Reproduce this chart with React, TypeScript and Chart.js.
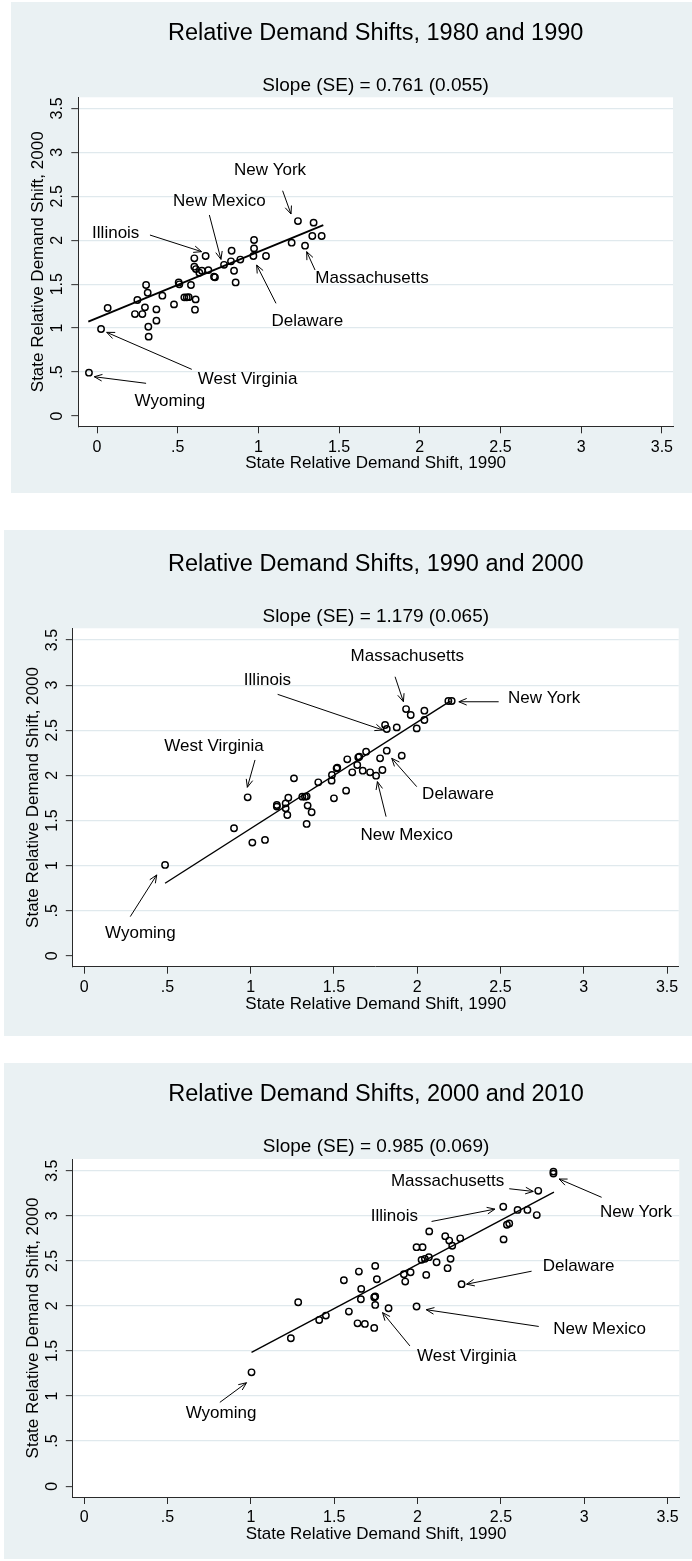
import React, { useEffect, useRef } from 'react';
import { Chart, registerables } from 'chart.js';

Chart.register(...registerables);

type Pt = [number, number];
type Arrow = [number, number, number, number];

// ---------- shared axis data ----------
const tickValues = [0, 0.5, 1, 1.5, 2, 2.5, 3, 3.5];
const tickLabels = ['0', '.5', '1', '1.5', '2', '2.5', '3', '3.5'];
const xAxisTitle = 'State Relative Demand Shift, 1990';
const yAxisTitle = 'State Relative Demand Shift, 2000';

const panelTitles = [
  'Relative Demand Shifts, 1980 and 1990',
  'Relative Demand Shifts, 1990 and 2000',
  'Relative Demand Shifts, 2000 and 2010',
];
const panelSubtitles = [
  'Slope (SE) = 0.761 (0.055)',
  'Slope (SE) = 1.179 (0.065)',
  'Slope (SE) = 0.985 (0.069)',
];

const stateNames = ['New York', 'New Mexico', 'Illinois', 'Delaware', 'Massachusetts', 'West Virginia', 'Wyoming'];

// ---------- panel 1 : 1980 and 1990 ----------
const p1Points: Pt[] = [
  [-0.05, 0.493], [0.025, 0.99], [0.066, 1.229], [0.235, 1.16], [0.25, 1.32],
  [0.281, 1.16], [0.297, 1.236], [0.304, 1.49], [0.314, 1.403], [0.318, 1.016],
  [0.32, 0.903], [0.368, 1.213], [0.368, 1.085], [0.405, 1.369], [0.477, 1.27],
  [0.506, 1.52], [0.51, 1.498], [0.541, 1.35], [0.556, 1.35], [0.568, 1.352],
  [0.582, 1.49], [0.603, 1.794], [0.603, 1.699], [0.607, 1.21], [0.611, 1.327],
  [0.613, 1.672], [0.634, 1.63], [0.65, 1.653], [0.673, 1.82], [0.69, 1.66],
  [0.725, 1.585], [0.731, 1.578], [0.787, 1.72], [0.83, 1.76], [0.834, 1.88],
  [0.849, 1.653], [0.859, 1.52], [0.888, 1.78], [0.969, 1.82], [0.973, 1.907],
  [0.973, 2.002], [1.047, 1.82], [1.206, 1.972], [1.245, 2.218], [1.289, 1.938],
  [1.334, 2.048], [1.342, 2.2], [1.392, 2.048],
];
const p1Fit: Pt[] = [[-0.054, 1.073], [1.402, 2.173]];
const p1LabelPos: Pt[] = [
  [1.072, 2.791], [0.758, 2.438], [0.116, 2.078], [1.303, 1.081],
  [1.704, 1.566], [0.933, 0.417], [0.452, 0.163],
];
const p1Arrows: Arrow[] = [
  [1.15, 2.563, 1.202, 2.298], [0.696, 2.287, 0.768, 1.782], [0.328, 2.059, 0.648, 1.87],
  [1.109, 1.282, 0.989, 1.718], [1.351, 1.661, 1.299, 1.87], [0.587, 0.531, 0.06, 0.952],
  [0.304, 0.372, -0.017, 0.447],
];

// ---------- panel 2 : 1990 and 2000 ----------
const p2Points: Pt[] = [
  [0.486, 1.008], [0.9, 1.414], [0.982, 1.757], [1.01, 1.255], [1.086, 1.285],
  [1.157, 1.672], [1.157, 1.654], [1.21, 1.69], [1.21, 1.635], [1.22, 1.561],
  [1.226, 1.753], [1.26, 1.967], [1.31, 1.764], [1.326, 1.764], [1.336, 1.768],
  [1.342, 1.665], [1.336, 1.462], [1.366, 1.591], [1.406, 1.923], [1.486, 1.942],
  [1.488, 2.004], [1.5, 1.746], [1.516, 2.078], [1.52, 2.086], [1.573, 1.831],
  [1.58, 2.178], [1.61, 2.034], [1.64, 2.115], [1.646, 2.2], [1.652, 2.207],
  [1.673, 2.052], [1.693, 2.263], [1.717, 2.034], [1.753, 1.997], [1.777, 2.189],
  [1.791, 2.06], [1.817, 2.274], [1.907, 2.219], [1.807, 2.558], [1.817, 2.514],
  [1.877, 2.532], [1.933, 2.735], [1.961, 2.669], [1.997, 2.521], [2.043, 2.614],
  [2.043, 2.717], [2.187, 2.824], [2.207, 2.824],
];
const p2Fit: Pt[] = [[0.486, 0.805], [2.2, 2.826]];
const p2LabelPos: Pt[] = [
  [2.762, 2.853], [1.937, 1.34], [1.101, 3.056], [2.245, 1.794],
  [1.94, 3.322], [0.78, 2.318], [0.338, 0.251],
];
const p2Arrows: Arrow[] = [
  [2.489, 2.816, 2.25, 2.816], [1.813, 1.543, 1.761, 1.931], [1.162, 2.898, 1.793, 2.503],
  [1.997, 1.875, 1.847, 2.189], [1.867, 3.093, 1.917, 2.817], [1.026, 2.171, 0.98, 1.868],
  [0.277, 0.435, 0.436, 0.897],
];

// ---------- panel 3 : 2000 and 2010 ----------
const p3Points: Pt[] = [
  [1.004, 1.263], [1.24, 1.641], [1.284, 2.041], [1.41, 1.844], [1.45, 1.893],
  [1.558, 2.285], [1.588, 1.937], [1.64, 1.807], [1.684, 1.8], [1.648, 2.381],
  [1.662, 2.189], [1.66, 2.074], [1.74, 2.096], [1.746, 2.104], [1.746, 2.011],
  [1.74, 1.756], [1.746, 2.444], [1.756, 2.296], [1.826, 1.974], [1.918, 2.352],
  [1.926, 2.27], [1.958, 2.374], [1.994, 1.993], [1.994, 2.652], [2.03, 2.652],
  [2.024, 2.511], [2.044, 2.522], [2.068, 2.541], [2.052, 2.344], [2.114, 2.485],
  [2.18, 2.419], [2.198, 2.522], [2.264, 2.241], [2.07, 2.827], [2.166, 2.774],
  [2.19, 2.725], [2.208, 2.667], [2.256, 2.75], [2.514, 3.1], [2.6, 3.065],
  [2.659, 3.065], [2.715, 3.008], [2.536, 2.9], [2.55, 2.915], [2.516, 2.738],
  [2.724, 3.277], [2.815, 3.49], [2.815, 3.468],
];
const p3Fit: Pt[] = [[1.004, 1.485], [2.818, 3.262]];
const p3LabelPos: Pt[] = [
  [3.31, 3.035], [3.092, 1.735], [1.861, 2.989], [2.966, 2.435],
  [2.18, 3.385], [2.295, 1.44], [0.821, 0.805],
];
const p3Arrows: Arrow[] = [
  [3.104, 3.205, 2.849, 3.408], [2.727, 1.772, 2.052, 1.958], [2.084, 2.937, 2.464, 3.074],
  [2.684, 2.385, 2.294, 2.241], [2.55, 3.3, 2.694, 3.27], [1.954, 1.556, 1.79, 1.926],
  [0.814, 0.93, 0.974, 1.148],
];

// ---------- styles / layout ----------
const FONT = '"Liberation Sans", Arial, Helvetica, sans-serif';
const BG = '#eaf1f3';
const GRID = '#e0e9ed';
const AXIS = '#2a2a2a';

interface PanelSpec {
  left: number; top: number; width: number; height: number;
  padTop: number; padRight: number; yWidth: number; xHeight: number;
  xMin: number; xMax: number; yMin: number; yMax: number;
  fitWidth: number;
  title: string; subtitle: string;
  points: Pt[]; fit: Pt[]; labelPos: Pt[]; arrows: Arrow[];
}

const panels: PanelSpec[] = [
  {
    left: 11, top: 2, width: 681, height: 491,
    padTop: 95.3, padRight: 19, yWidth: 67.3, xHeight: 66.7,
    xMin: -0.116, xMax: 3.569, yMin: -0.117, yMax: 3.626, fitWidth: 1.9,
    title: panelTitles[0], subtitle: panelSubtitles[0],
    points: p1Points, fit: p1Fit, labelPos: p1LabelPos, arrows: p1Arrows,
  },
  {
    left: 4, top: 530, width: 688, height: 506,
    padTop: 98.3, padRight: 13.3, yWidth: 68.8, xHeight: 69.3,
    xMin: -0.068, xMax: 3.57, yMin: -0.12, yMax: 3.63, fitWidth: 1.4,
    title: panelTitles[1], subtitle: panelSubtitles[1],
    points: p2Points, fit: p2Fit, labelPos: p2LabelPos, arrows: p2Arrows,
  },
  {
    left: 4, top: 1063, width: 688, height: 496,
    padTop: 96, padRight: 12.7, yWidth: 68.8, xHeight: 62,
    xMin: -0.068, xMax: 3.57, yMin: -0.12, yMax: 3.63, fitWidth: 1.4,
    title: panelTitles[2], subtitle: panelSubtitles[2],
    points: p3Points, fit: p3Fit, labelPos: p3LabelPos, arrows: p3Arrows,
  },
];

function makeDecoPlugin(spec: PanelSpec) {
  return {
    id: 'stataDeco',
    beforeDraw(chart: any) {
      const { ctx, width, height, chartArea: ca } = chart;
      ctx.save();
      ctx.fillStyle = BG;
      ctx.fillRect(0, 0, width, height);
      ctx.fillStyle = '#ffffff';
      ctx.fillRect(ca.left, ca.top, ca.right - ca.left, ca.bottom - ca.top);
      ctx.restore();
    },
    afterDraw(chart: any) {
      const { ctx, chartArea: ca } = chart;
      const xs = chart.scales.x;
      const ys = chart.scales.y;
      const cx = (ca.left + ca.right) / 2;
      const cy = (ca.top + ca.bottom) / 2;
      ctx.save();
      ctx.fillStyle = '#000';
      ctx.textAlign = 'center';
      ctx.textBaseline = 'middle';

      // titles
      ctx.font = `23.5px ${FONT}`;
      ctx.fillText(spec.title, cx, ca.top - 64);
      ctx.font = `19px ${FONT}`;
      ctx.fillText(spec.subtitle, cx, ca.top - 12);

      // x tick labels
      ctx.font = `16px ${FONT}`;
      xs.ticks.forEach((t: any, i: number) => {
        ctx.fillText(tickLabels[i], xs.getPixelForValue(t.value), ca.bottom + 20.8);
      });
      // x title
      ctx.font = `17px ${FONT}`;
      ctx.fillText(xAxisTitle, cx, ca.bottom + 37.5);

      // y tick labels (rotated)
      ctx.font = `16px ${FONT}`;
      ys.ticks.forEach((t: any, i: number) => {
        ctx.save();
        ctx.translate(ca.left - 20.3, ys.getPixelForValue(t.value));
        ctx.rotate(-Math.PI / 2);
        ctx.fillText(tickLabels[i], 0, 0);
        ctx.restore();
      });
      // y title
      ctx.font = `17px ${FONT}`;
      ctx.save();
      ctx.translate(ca.left - 39.6, cy);
      ctx.rotate(-Math.PI / 2);
      ctx.fillText(yAxisTitle, 0, 0);
      ctx.restore();

      // state labels
      ctx.font = `17px ${FONT}`;
      spec.labelPos.forEach((p, i) => {
        ctx.fillText(stateNames[i], xs.getPixelForValue(p[0]), ys.getPixelForValue(p[1]));
      });

      // arrows
      ctx.strokeStyle = '#000';
      ctx.lineWidth = 1;
      spec.arrows.forEach((a) => {
        const x1 = xs.getPixelForValue(a[0]);
        const y1 = ys.getPixelForValue(a[1]);
        const x2 = xs.getPixelForValue(a[2]);
        const y2 = ys.getPixelForValue(a[3]);
        const ang = Math.atan2(y2 - y1, x2 - x1);
        const hl = 8.5;
        const ha = 0.4;
        ctx.beginPath();
        ctx.moveTo(x1, y1);
        ctx.lineTo(x2, y2);
        ctx.moveTo(x2 - hl * Math.cos(ang - ha), y2 - hl * Math.sin(ang - ha));
        ctx.lineTo(x2, y2);
        ctx.lineTo(x2 - hl * Math.cos(ang + ha), y2 - hl * Math.sin(ang + ha));
        ctx.stroke();
      });
      ctx.restore();
    },
  };
}

function Panel({ spec }: { spec: PanelSpec }) {
  const ref = useRef<HTMLCanvasElement | null>(null);
  useEffect(() => {
    if (!ref.current) return;
    const setTicks = (s: any) => {
      s.ticks = tickValues.map((v) => ({ value: v }));
    };
    const chart = new Chart(ref.current, {
      type: 'scatter',
      data: {
        datasets: [
          {
            type: 'scatter',
            data: spec.points.map(([x, y]) => ({ x, y })),
            pointStyle: 'circle',
            pointRadius: 3.2,
            pointBorderWidth: 1.45,
            pointBorderColor: '#000',
            pointBackgroundColor: 'rgba(0,0,0,0)',
            order: 2,
          } as any,
          {
            type: 'line',
            data: spec.fit.map(([x, y]) => ({ x, y })),
            borderColor: '#000',
            borderWidth: spec.fitWidth,
            pointRadius: 0,
            fill: false,
            tension: 0,
            order: 1,
          } as any,
        ],
      },
      options: {
        responsive: false,
        animation: false,
        devicePixelRatio: 1,
        events: [],
        layout: { padding: { top: spec.padTop, right: spec.padRight, left: 0, bottom: 0 } },
        plugins: {
          legend: { display: false },
          tooltip: { enabled: false },
          title: { display: false },
        },
        scales: {
          x: {
            type: 'linear',
            position: 'bottom',
            min: spec.xMin,
            max: spec.xMax,
            afterBuildTicks: setTicks,
            afterFit: (s: any) => { s.height = spec.xHeight; },
            ticks: { display: false },
            grid: {
              drawOnChartArea: false,
              drawTicks: true,
              tickLength: 7,
              tickColor: AXIS,
              tickWidth: 1,
            },
            border: { display: true, color: AXIS, width: 1 },
          },
          y: {
            type: 'linear',
            position: 'left',
            min: spec.yMin,
            max: spec.yMax,
            afterBuildTicks: setTicks,
            afterFit: (s: any) => { s.width = spec.yWidth; },
            ticks: { display: false },
            grid: {
              drawOnChartArea: true,
              color: (c: any) => (c.tick && c.tick.value === 0 ? 'rgba(0,0,0,0)' : GRID),
              lineWidth: 1.3,
              drawTicks: true,
              tickLength: 7,
              tickColor: AXIS,
              tickWidth: 1,
            },
            border: { display: true, color: AXIS, width: 1 },
          },
        },
      } as any,
      plugins: [makeDecoPlugin(spec)],
    });
    return () => chart.destroy();
  }, [spec]);
  return (
    <canvas
      ref={ref}
      width={spec.width}
      height={spec.height}
      style={{ position: 'absolute', left: spec.left, top: spec.top, width: spec.width, height: spec.height }}
    />
  );
}

export default function App() {
  return (
    <div
      style={{
        position: 'absolute',
        left: 0,
        top: 0,
        width: 692,
        height: 1561,
        background: '#ffffff',
        overflow: 'hidden',
      }}
    >
      {panels.map((p, i) => (
        <Panel key={i} spec={p} />
      ))}
    </div>
  );
}
